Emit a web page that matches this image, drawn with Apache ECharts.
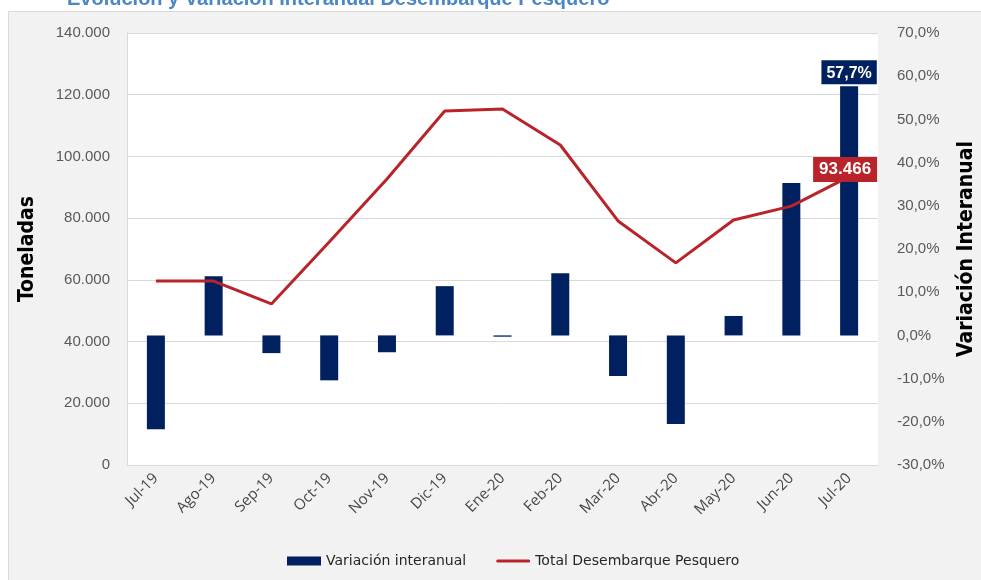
<!DOCTYPE html>
<html><head><meta charset="utf-8">
<script src="https://cdn.jsdelivr.net/npm/echarts@6/dist/echarts.min.js"></script>
<style>html,body{margin:0;padding:0;background:#fff;overflow:hidden}#c{width:981px;height:580px}</style>
</head><body><div id="c"></div>
<script>
const categories = ['Jul-19','Ago-19','Sep-19','Oct-19','Nov-19','Dic-19','Ene-20','Feb-20','Mar-20','Abr-20','May-20','Jun-20','Jul-20'];
const variacion = [-21.7, 13.7, -4.1, -10.4, -3.9, 11.4, -0.3, 14.4, -9.4, -20.5, 4.5, 35.3, 57.7];
const desembarque = [59600, 59600, 52200, 72300, 92700, 114700, 115400, 103700, 79100, 65500, 79400, 83900, 93466];
const titleText = 'Evolución y Variación Interanual Desembarque Pesquero';

const chart = echarts.init(document.getElementById('c'));
const fmtThousands = v => String(Math.round(v)).replace(/\B(?=(\d{3})+(?!\d))/g, '.');
const fmtPct = v => v.toFixed(1).replace('.', ',') + '%';
const last = categories.length - 1;
const nameFont = 'DejaVu Sans Condensed, Liberation Sans Narrow, sans-serif';

chart.setOption({
  animation: false,
  backgroundColor: '#ffffff',
  graphic: [
    { type: 'rect', left: 8, top: 11, shape: { x: 0, y: 0, width: 980, height: 575 }, style: { fill: '#f2f2f2', stroke: '#d9d9d9', lineWidth: 1 }, z: -10 }
  ],
  title: {
    text: titleText, left: 62, top: -16,
    textStyle: { color: '#4a86c8', fontSize: 20, fontWeight: 'bold', fontFamily: 'Liberation Sans, Arial' }
  },
  grid: { left: 127, right: 103, top: 33, bottom: 115, show: true, backgroundColor: '#ffffff', borderWidth: 0, containLabel: false, outerBoundsMode: 'none' },
  legend: {
    bottom: 7, left: 282, itemGap: 30, itemWidth: 34, itemHeight: 9,
    textStyle: { color: '#262626', fontSize: 14, fontFamily: 'DejaVu Sans' },
    data: [
      { name: 'Variación interanual', icon: 'rect' },
      { name: 'Total Desembarque Pesquero', icon: 'path://M1.5,0 L32.5,0 A1.5,1.5 0 0 1 32.5,3 L1.5,3 A1.5,1.5 0 0 1 1.5,0 Z', itemStyle: { color: '#b9242a' } }
    ]
  },
  xAxis: {
    type: 'category', data: categories,
    axisLine: { lineStyle: { color: '#d9d9d9' } },
    axisTick: { show: false },
    axisLabel: { rotate: 45, color: '#474747', fontSize: 15, fontFamily: 'Open Sans, Liberation Sans', interval: 0, margin: 11 }
  },
  yAxis: [
    {
      type: 'value', min: 0, max: 140000, interval: 20000, position: 'left',
      name: 'Toneladas', nameLocation: 'middle', nameGap: 89, nameRotate: 90,
      nameTextStyle: { color: '#000', fontSize: 21, fontWeight: 'bold', fontFamily: nameFont },
      axisLine: { show: true, lineStyle: { color: '#d9d9d9' } },
      axisTick: { show: false },
      splitLine: { lineStyle: { color: '#d9d9d9' } },
      axisLabel: { color: '#595959', fontSize: 15, fontFamily: 'Liberation Sans, Arial', formatter: fmtThousands, margin: 17 }
    },
    {
      type: 'value', min: -30, max: 70, interval: 10, position: 'right',
      name: 'Variación Interanual', nameLocation: 'middle', nameGap: 78, nameRotate: 90,
      nameTextStyle: { color: '#000', fontSize: 21, fontWeight: 'bold', fontFamily: nameFont },
      axisLine: { show: false }, axisTick: { show: false }, splitLine: { show: false },
      axisLabel: { color: '#595959', fontSize: 15, fontFamily: 'Liberation Sans, Arial', formatter: fmtPct, margin: 19 }
    }
  ],
  series: [
    {
      name: 'Variación interanual', type: 'bar', yAxisIndex: 1, barWidth: 18,
      itemStyle: { color: '#002060' },
      data: variacion.map((v, i) => i === last ? {
        value: v,
        label: { show: true, position: 'top', distance: 2, formatter: p => fmtPct(p.value), color: '#fff', fontWeight: 'bold', fontSize: 16, fontFamily: 'Liberation Sans, Arial', backgroundColor: '#002060', padding: [5, 5, 3, 5] }
      } : v),
      z: 2
    },
    {
      name: 'Total Desembarque Pesquero', type: 'line', yAxisIndex: 0,
      symbol: 'circle', symbolSize: 0.1, showSymbol: true,
      lineStyle: { color: '#b9242a', width: 3 }, itemStyle: { color: '#b9242a' },
      data: desembarque.map((v, i) => i === last ? {
        value: v,
        label: { show: true, position: 'inside', offset: [-4, -7], formatter: p => fmtThousands(p.value), color: '#fff', fontWeight: 'bold', fontSize: 17, fontFamily: 'Liberation Sans, Arial', backgroundColor: '#b9242a', padding: [5, 6, 3, 6] }
      } : v),
      z: 3
    }
  ]
});
</script></body></html>
